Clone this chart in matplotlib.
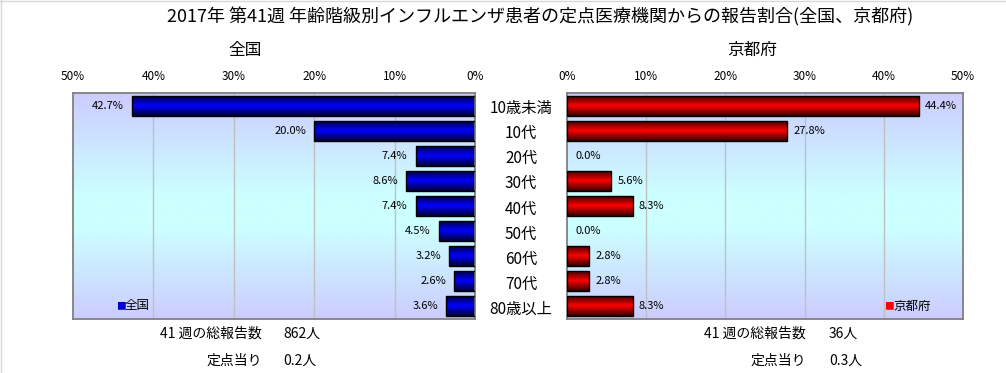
import numpy as np
import matplotlib
matplotlib.use("Agg")
import matplotlib.pyplot as plt
from matplotlib.colors import LinearSegmentedColormap
import matplotlib.transforms as mtransforms

plt.rcParams['font.family'] = ['Noto Sans CJK JP', 'DejaVu Sans']

title = "2017年 第41週 年齢階級別インフルエンザ患者の定点医療機関からの報告割合(全国、京都府)"
categories = ["10歳未満", "10代", "20代", "30代", "40代", "50代", "60代", "70代", "80歳以上"]
national = [42.7, 20.0, 7.4, 8.6, 7.4, 4.5, 3.2, 2.6, 3.6]
kyoto = [44.4, 27.8, 0.0, 5.6, 8.3, 0.0, 2.8, 2.8, 8.3]
xticks = [0, 10, 20, 30, 40, 50]
xtick_labels = ["0%", "10%", "20%", "30%", "40%", "50%"]
nat_total = "862人"
nat_per = "0.2人"
kyo_total = "36人"
kyo_per = "0.3人"

W, H = 1006, 373
fig = plt.figure(figsize=(W / 100, H / 100), dpi=100)

def ax_rect(x0, x1, y0, y1):
    return [x0 / W, 1 - y1 / H, (x1 - x0) / W, (y1 - y0) / H]

axL = fig.add_axes(ax_rect(73, 475, 93, 319))
axR = fig.add_axes(ax_rect(567, 963, 93, 319))

bg_cmap = LinearSegmentedColormap.from_list(
    "bg", [(0.0, "#ccccff"), (0.45, "#ccffff"), (0.6, "#ccffff"), (1.0, "#ccccff")])
blue_cmap = LinearSegmentedColormap.from_list(
    "blue", [(0.0, "#000030"), (0.5, "#0000ff"), (1.0, "#000030")])
red_cmap = LinearSegmentedColormap.from_list(
    "red", [(0.0, "#300000"), (0.5, "#ff0000"), (1.0, "#300000")])

n = len(categories)
ypos = np.arange(n)
grad = np.linspace(0, 1, 256).reshape(-1, 1)

def setup(ax, values, cmap, side):
    xl = (50, 0) if side == "left" else (0, 50)
    ax.imshow(grad, aspect="auto", cmap=bg_cmap, extent=[0, 50, n - 0.5, -0.5], zorder=0)
    for xv in xticks[1:-1]:
        ax.axvline(xv, color="#c0c0c0", lw=1.0, zorder=1)
    bars = ax.barh(ypos, values, height=0.8, color="none", edgecolor="black",
                   lw=1.0, zorder=3)
    for b, v in zip(bars, values):
        if v <= 0:
            b.set_edgecolor("none")
            continue
        y0 = b.get_y()
        im = ax.imshow(grad, aspect="auto", cmap=cmap,
                       extent=[0, v, y0 + b.get_height(), y0], zorder=2)
        im.set_clip_path(b)
    ax.set_xlim(*xl)
    ax.set_ylim(n - 0.5, -0.5)
    for y, v in zip(ypos, values):
        if side == "right":
            off = 8 if v <= 0 else 6
        else:
            off = -8
        t = mtransforms.offset_copy(ax.transData, fig=fig, x=off, y=0, units="dots")
        ax.text(v, y, f"{v:.1f}%", transform=t, fontsize=8,
                ha="left" if side == "right" else "right", va="center", zorder=4)
    ax.xaxis.tick_top()
    ax.set_xticks(xticks)
    ax.set_xticklabels(xtick_labels, fontsize=8.5)
    ax.tick_params(axis="x", length=0, pad=7)
    ax.set_yticks([])
    for s in ax.spines.values():
        s.set_color("#808080")
        s.set_linewidth(1.3)

setup(axL, national, blue_cmap, "left")
setup(axR, kyoto, red_cmap, "right")

# category labels in the middle
tr = mtransforms.blended_transform_factory(fig.transFigure, axR.transData)
for y, c in zip(ypos, categories):
    fig.text(521 / W, y + 0.12, c, transform=tr, ha="center", va="center", fontsize=11)

# legends
fig.text(116 / W, 1 - 306 / H, "■", color="#0000cc", fontsize=7, ha="left", va="center")
fig.text(125 / W, 1 - 306 / H, "全国", fontsize=9, ha="left", va="center")
fig.text(884 / W, 1 - 306 / H, "■", color="#ff0000", fontsize=7, ha="left", va="center")
fig.text(893 / W, 1 - 306 / H, "京都府", fontsize=9, ha="left", va="center")

# titles
fig.text(540 / W, 1 - 17 / H, title, ha="center", va="center", fontsize=13)
fig.text(245 / W, 1 - 50 / H, "全国", ha="center", va="center", fontsize=12)
fig.text(752 / W, 1 - 50 / H, "京都府", ha="center", va="center", fontsize=12)

# summary texts
fs = 10
fig.text(262 / W, 1 - 334 / H, "41 週の総報告数", ha="right", va="center", fontsize=fs)
fig.text(283 / W, 1 - 334 / H, nat_total, ha="left", va="center", fontsize=fs)
fig.text(262 / W, 1 - 361 / H, "定点当り", ha="right", va="center", fontsize=fs)
fig.text(283 / W, 1 - 361 / H, nat_per, ha="left", va="center", fontsize=fs)
fig.text(806 / W, 1 - 334 / H, "41 週の総報告数", ha="right", va="center", fontsize=fs)
fig.text(829 / W, 1 - 334 / H, kyo_total, ha="left", va="center", fontsize=fs)
fig.text(806 / W, 1 - 361 / H, "定点当り", ha="right", va="center", fontsize=fs)
fig.text(829 / W, 1 - 361 / H, kyo_per, ha="left", va="center", fontsize=fs)

# faint figure border (top/left)
fig.add_artist(plt.Line2D([0, 1], [1 - 0.5 / H, 1 - 0.5 / H], transform=fig.transFigure,
                          color="#d8d8d8", lw=1))
fig.add_artist(plt.Line2D([0.5 / W, 0.5 / W], [0, 1], transform=fig.transFigure,
                          color="#d8d8d8", lw=1))

fig.savefig("out.png", dpi=100)
